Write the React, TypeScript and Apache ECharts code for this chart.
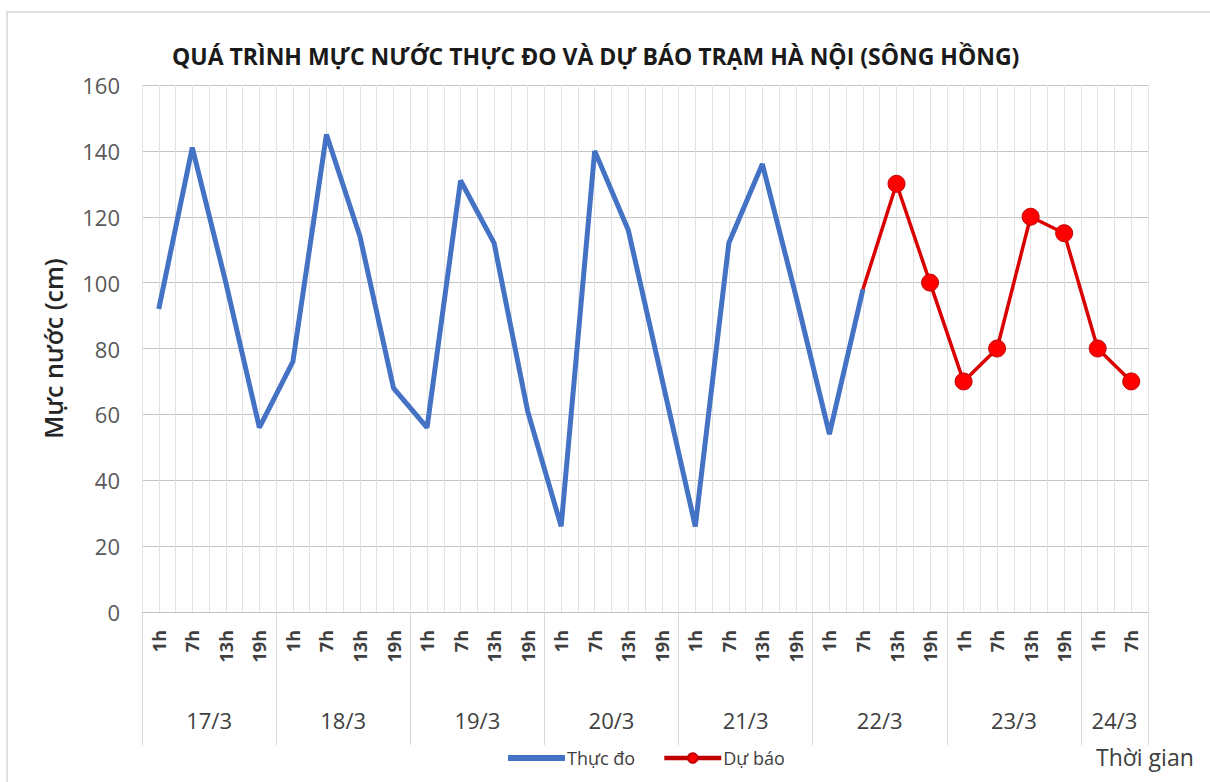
import React, { useEffect, useRef } from "react";
import * as echarts from "echarts";

const titleText = "QUÁ TRÌNH MỰC NƯỚC THỰC ĐO VÀ DỰ BÁO TRẠM HÀ NỘI (SÔNG HỒNG)";
const yAxisTitle = "Mực nước (cm)";
const xAxisTitle = "Thời gian";
const days = ["17/3", "18/3", "19/3", "20/3", "21/3", "22/3", "23/3", "24/3"];
const hoursPerDay = [4, 4, 4, 4, 4, 4, 4, 2];
const hourLabels = ["1h", "7h", "13h", "19h"];
const seriesNames = ["Thực đo", "Dự báo"];
// measured values from 17/3 1h to 22/3 7h
const observed = [92, 141, 100, 56, 76, 145, 114, 68, 56, 131, 112, 61, 26, 140, 116, 71, 26, 112, 136, 96, 54, 98];
// forecast values from 22/3 7h (joining point) to 24/3 7h
const forecast = [98, 130, 100, 70, 80, 120, 115, 80, 70];
const yTicks = [0, 20, 40, 60, 80, 100, 120, 140, 160];

export default function App() {
  const ref = useRef<HTMLDivElement>(null);

  useEffect(() => {
    if (!ref.current) return;
    const chart = echarts.init(ref.current, null, { renderer: "svg" });

    const categories: string[] = [];
    const hourOf: string[] = [];
    days.forEach((d, i) => {
      for (let k = 0; k < hoursPerDay[i]; k++) {
        categories.push(d + " " + hourLabels[k]);
        hourOf.push(hourLabels[k]);
      }
    });
    const n = categories.length;

    const halfData: string[] = [];
    for (let j = 0; j <= 2 * n; j++) halfData.push("p" + j);
    const dateAt: Record<number, string> = {};
    const boundaries = new Set<number>();
    let start = 0;
    days.forEach((d, i) => {
      boundaries.add(2 * start);
      dateAt[2 * start + hoursPerDay[i]] = d;
      start += hoursPerDay[i];
    });
    boundaries.add(2 * start);

    const obsData: any[] = categories.map((_, i) => (i < observed.length ? observed[i] : null));
    const fcStart = observed.length - 1;
    const fcData: any[] = categories.map((_, i) => {
      if (i < fcStart) return null;
      const v = forecast[i - fcStart];
      if (v === undefined) return null;
      if (i === fcStart) return { value: v, symbol: "none" };
      return v;
    });

    const font = "'Open Sans', 'Noto Sans', sans-serif";

    chart.setOption({
      animation: false,
      backgroundColor: "#ffffff",
      textStyle: { fontFamily: font },
      title: [
        {
          text: titleText,
          left: 172,
          top: 44,
          padding: 0,
          textStyle: { fontFamily: font, fontSize: 23, fontWeight: "bold", color: "#1a1a1a" },
        },
        {
          text: xAxisTitle,
          left: 1096,
          top: 745,
          padding: 0,
          textStyle: { fontFamily: font, fontSize: 23, fontWeight: "normal", color: "#404040" },
        },
      ],
      graphic: [
        {
          type: "rect",
          shape: { x: 7, y: 12, width: 1240, height: 800 },
          style: { fill: "none", stroke: "#d6d6d6", lineWidth: 1.5 },
          silent: true,
        },
      ],
      legend: {
        left: 505,
        top: 749,
        itemWidth: 57,
        itemHeight: 12,
        itemGap: 27,
        padding: 0,
        textStyle: { fontFamily: font, fontSize: 18, color: "#404040", padding: [0, 0, 0, -3] },
        data: [
          {
            name: seriesNames[0],
            itemStyle: { color: "rgba(0,0,0,0)", borderWidth: 0, opacity: 0 },
            lineStyle: { width: 6, color: "#4472c4" },
          },
          {
            name: seriesNames[1],
            lineStyle: { width: 4.5, color: "#c00000" },
          },
        ],
      },
      grid: { left: 142, right: 62, top: 85, bottom: 170, containLabel: false },
      xAxis: [
        {
          type: "category",
          position: "bottom",
          data: categories,
          boundaryGap: true,
          axisLine: { show: true, lineStyle: { color: "#bfbfbf", width: 1 } },
          axisTick: { show: false },
          splitLine: { show: false },
          axisLabel: {
            interval: 0,
            rotate: 90,
            margin: 18,
            fontFamily: font,
            fontSize: 18,
            fontWeight: "bold",
            color: "#404040",
            formatter: (_v: string, idx: number) => hourOf[idx],
          },
        },
        {
          type: "category",
          position: "bottom",
          data: halfData,
          boundaryGap: false,
          axisLine: { show: false },
          axisTick: {
            show: true,
            inside: false,
            length: 133,
            interval: (idx: number) => boundaries.has(idx),
            lineStyle: { color: "#d9d9d9", width: 1 },
          },
          splitLine: { show: true, interval: 0, lineStyle: { color: "#e3e3e3", width: 1 } },
          axisLabel: {
            interval: 0,
            margin: 97,
            fontFamily: font,
            fontSize: 22,
            color: "#404040",
            verticalAlign: "top",
            formatter: (_v: string, idx: number) => dateAt[idx] || "",
          },
        },
      ],
      yAxis: {
        type: "value",
        min: yTicks[0],
        max: yTicks[yTicks.length - 1],
        interval: yTicks[1] - yTicks[0],
        name: yAxisTitle,
        nameLocation: "middle",
        nameGap: 77,
        nameRotate: 90,
        nameTextStyle: { fontFamily: font, fontSize: 25, fontWeight: 600, color: "#262626" },
        axisLine: { show: false },
        axisTick: { show: false },
        splitLine: { show: true, lineStyle: { color: "#c4c4c4", width: 1 } },
        axisLabel: { margin: 22, fontFamily: font, fontSize: 22, color: "#595959" },
      },
      series: [
        {
          name: seriesNames[0],
          type: "line",
          xAxisIndex: 0,
          data: obsData,
          symbol: "none",
          showSymbol: false,
          lineStyle: { color: "#4472c4", width: 5 },
          itemStyle: { color: "#4472c4" },
          z: 3,
        },
        {
          name: seriesNames[1],
          type: "line",
          xAxisIndex: 0,
          data: fcData,
          symbol: "circle",
          symbolSize: 17,
          showSymbol: true,
          lineStyle: { color: "#d90000", width: 3.5 },
          itemStyle: { color: "#ff0000", borderColor: "#c00000", borderWidth: 1 },
          z: 4,
        },
      ],
    });

    return () => chart.dispose();
  }, []);

  return (
    <div
      ref={ref}
      style={{ position: "absolute", left: 0, top: 0, width: 1210, height: 782, background: "#fff" }}
    />
  );
}
